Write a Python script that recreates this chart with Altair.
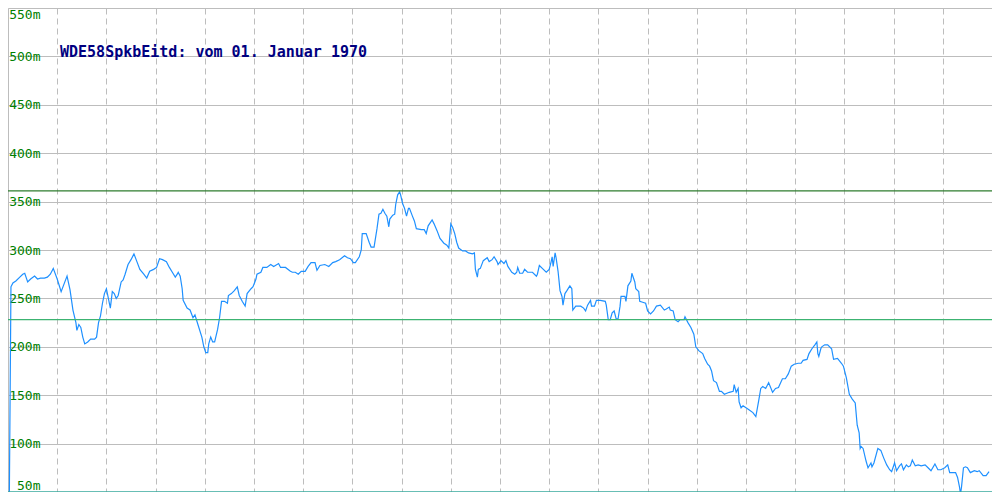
import altair as alt
import pandas as pd

# trading-day index (horizontal) and quote in "m" units
day = [1, 3, 5, 8, 12, 15, 17, 20, 23, 27, 30, 33, 37, 40, 43, 46, 50, 54, 57, 60,
       63, 66, 69, 70, 72, 74, 76, 78, 81, 84, 88, 90, 92, 94, 96, 98, 100, 102, 104, 106,
       108, 110, 112, 115, 117, 119, 122, 125, 128, 131, 134, 138, 141, 144, 148, 151, 154, 157, 161, 164,
       167, 170, 172, 173, 175, 177, 178, 182, 185, 188, 190, 193, 197, 199, 201, 203, 204, 206, 208, 210,
       213, 215, 217, 220, 223, 224, 227, 230, 233, 235, 238, 241, 243, 247, 249, 252, 253, 257, 259, 263,
       267, 270, 275, 277, 282, 287, 289, 292, 295, 298, 302, 305, 308, 312, 314, 317, 322, 326, 330, 333,
       337, 342, 345, 348, 351, 353, 357, 359, 360, 364, 367, 369, 372, 375, 377, 379, 381, 383, 385, 387,
       388, 391, 393, 394, 396, 398, 399, 401, 403, 405, 407, 408, 411, 413, 415, 420, 423, 425, 427, 431,
       433, 436, 439, 443, 446, 448, 450, 452, 454, 456, 458, 462, 465, 468, 472, 474, 475, 477, 478, 480,
       483, 487, 489, 492, 494, 497, 498, 501, 504, 506, 508, 512, 515, 517, 518, 520, 523, 525, 528, 533,
       537, 538, 540, 543, 547, 550, 552, 553, 554, 556, 557, 559, 561, 563, 564, 566, 568, 571, 573, 574,
       577, 582, 585, 587, 589, 592, 593, 596, 598, 602, 607, 608, 610, 612, 614, 616, 618, 620, 622, 623,
       627, 628, 630, 633, 634, 637, 638, 641, 642, 645, 648, 650, 653, 656, 659, 663, 667, 669, 672, 673,
       676, 678, 681, 683, 687, 688, 691, 694, 697, 699, 702, 706, 708, 711, 713, 715, 717, 720, 723, 725,
       728, 733, 737, 738, 740, 742, 743, 745, 747, 750, 753, 757, 760, 763, 765, 767, 770, 773, 777, 780,
       783, 787, 790, 793, 796, 799, 803, 806, 808, 812, 814, 817, 820, 822, 823, 824, 826, 827, 830, 833,
       837, 839, 843, 847, 849, 852, 855, 858, 861, 863, 865, 866, 867, 869, 872, 874, 877, 878, 880, 884,
       887, 890, 893, 896, 898, 901, 903, 906, 908, 910, 913, 915, 917, 919, 922, 925, 928, 932, 935, 938,
       942, 945, 948, 952, 955, 957, 962, 963, 965, 967, 968, 969, 971, 973, 975, 978, 982, 985, 987, 991,
       994, 997]

quote = [0, 262, 266, 268, 272, 275, 276, 267, 270, 273, 270, 271, 271, 272, 275, 281, 270, 257, 265, 273,
         259, 238, 225, 217, 223, 220, 210, 203, 205, 208, 208, 210, 225, 232, 245, 255, 260, 250, 240, 257,
         255, 250, 253, 267, 269, 275, 285, 290, 296, 288, 280, 275, 271, 278, 280, 282, 291, 290, 288, 282,
         277, 272, 275, 277, 273, 260, 248, 240, 238, 230, 233, 223, 210, 200, 194, 194, 203, 210, 205, 205,
         218, 230, 247, 247, 245, 253, 255, 258, 262, 253, 247, 242, 255, 260, 262, 270, 275, 277, 282, 282,
         285, 283, 286, 282, 282, 278, 277, 277, 275, 278, 278, 283, 287, 287, 279, 284, 285, 283, 287, 288,
         290, 294, 292, 291, 287, 287, 293, 300, 317, 317, 308, 303, 303, 322, 337, 338, 342, 338, 335, 324,
         332, 336, 337, 347, 357, 360, 357, 348, 343, 335, 343, 343, 335, 330, 322, 321, 321, 317, 325, 331,
         327, 320, 312, 307, 305, 302, 327, 323, 317, 308, 302, 299, 299, 297, 296, 297, 280, 272, 280, 281,
         289, 292, 288, 290, 293, 288, 285, 289, 286, 289, 283, 277, 275, 277, 282, 276, 276, 280, 277, 277,
         273, 275, 284, 281, 277, 280, 288, 293, 283, 297, 292, 278, 258, 252, 243, 255, 258, 263, 260, 238,
         242, 242, 240, 237, 243, 248, 242, 242, 248, 248, 247, 243, 228, 228, 235, 237, 229, 229, 242, 252,
         252, 247, 263, 268, 276, 267, 260, 257, 247, 246, 245, 237, 234, 237, 242, 243, 238, 239, 241, 238,
         237, 228, 226, 228, 228, 231, 225, 220, 213, 200, 196, 193, 188, 182, 180, 175, 165, 163, 154, 154,
         151, 153, 154, 161, 153, 157, 143, 137, 139, 137, 135, 132, 128, 145, 157, 159, 157, 163, 153, 157,
         158, 167, 167, 172, 180, 182, 183, 183, 186, 187, 193, 198, 202, 205, 193, 190, 198, 200, 202, 202,
         198, 187, 188, 183, 180, 168, 151, 146, 142, 119, 111, 95, 97, 95, 82, 75, 80, 76, 80, 95,
         93, 85, 78, 73, 71, 80, 72, 77, 79, 73, 78, 76, 77, 83, 77, 78, 77, 78, 75, 72,
         79, 73, 73, 75, 78, 70, 70, 70, 65, 55, 48, 55, 75, 76, 75, 70, 72, 71, 72, 67,
         67, 71]

ref_names = ["max", "avg", "min"]
ref_values = [361, 228, 50]
ref_colors = ["#2e7d2e", "#3cb371", "#36a89c"]

y_ticks = list(range(50, 551, 50))
x_ticks = list(range(50, 1000, 50))
title_text = "WDE58SpkbEitd: vom 01. Januar 1970"

series = pd.DataFrame({"day": day, "quote": quote})
refs = pd.DataFrame({"name": ref_names, "value": ref_values, "color": ref_colors})

xs = alt.Scale(domain=[0, 1000], nice=False, zero=False)
ys = alt.Scale(domain=[50, 550], nice=False, zero=False)

line = alt.Chart(series).mark_line(color="#1e90ff", strokeWidth=1.2, clip=True).encode(
    x=alt.X("day:Q", scale=xs, axis=alt.Axis(
        values=x_ticks, grid=True, gridColor="#bdbdbd", gridDash=[6, 4], gridWidth=1,
        labels=False, ticks=False, domain=False, title=None)),
    y=alt.Y("quote:Q", scale=ys, axis=alt.Axis(
        values=y_ticks, grid=True, gridColor="#bdbdbd", gridWidth=1,
        labelExpr="datum.value + 'm'", labelColor="#008000",
        labelFont="DejaVu Sans Mono", labelFontSize=13,
        labelAlign="right", labelPadding=-32, labelFlush=True, labelOverlap=False,
        ticks=False, tickSize=0, domain=True, domainColor="#bdbdbd", title=None)),
)

rules = alt.Chart(refs).mark_rule(strokeWidth=1.3).encode(
    y=alt.Y("value:Q", scale=ys),
    color=alt.Color("color:N", scale=None, legend=None),
)

chart = alt.layer(line, rules).properties(
    width=984, height=484,
    autosize=alt.AutoSizeParams(type="none"),
    padding=0,
    title=alt.TitleParams(
        title_text, anchor="start", frame="group", orient="top",
        font="DejaVu Sans Mono", fontSize=15, fontWeight="bold", color="#000080",
        baseline="alphabetic", offset=0, dx=52, dy=64),
).configure_view(stroke=None).configure(background="white")

chart.save("out.html", embed_options={"renderer": "svg", "actions": False})
